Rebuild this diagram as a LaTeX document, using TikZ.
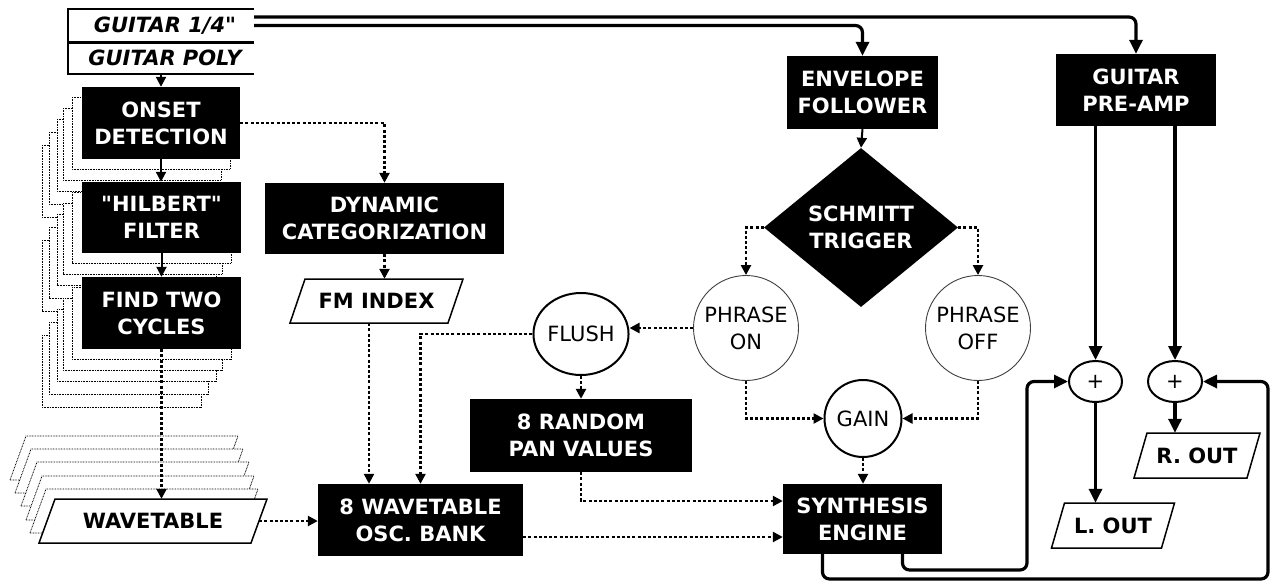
\documentclass[tikz,border=0pt]{standalone}
\usepackage{fontspec}
\setmainfont{DejaVu Sans}[Ligatures=TeXOff]
\usetikzlibrary{arrows.meta,shapes.geometric}
\newcommand\lblfont{\fontsize{21}{27}\selectfont}
% slanted input/output frame: centre x, centre y, width, height, slant, style
\newcommand\ioframe[6]{%
  \path[#6] ({#1-#3/2-#5/2},{#2+#4/2}) -- ({#1-#3/2+#5/2},{#2-#4/2})
    -- ({#1+#3/2+#5/2},{#2-#4/2}) -- ({#1+#3/2-#5/2},{#2+#4/2}) -- cycle;}
\tikzset{
  every node/.style={font=\lblfont, align=center, inner sep=0pt},
  blk/.style={rectangle, fill=black, text=white, font=\lblfont\bfseries},
  iotxt/.style={rectangle, font=\lblfont\bfseries},
  iofr/.style={draw, line width=1.5pt, fill=white},
  copyfr/.style={draw, line width=0.8pt, dash pattern=on 0.8pt off 0.8pt, fill=white},
  thinring/.style={circle, draw=black!75, line width=0.9pt, fill=white},
  ring/.style={draw, line width=2pt, fill=white},
  sig/.style={line width=2pt, -{Triangle[length=10pt,width=10pt]}},
  heavy/.style={line width=3.2pt, rounded corners=7pt, -{Triangle[length=14pt,width=13pt]}},
  ctl/.style={line width=2.4pt, dash pattern=on 3pt off 2.2pt, -{Triangle[length=10pt,width=10pt]}},
}
\begin{document}
\begin{tikzpicture}[x=1pt,y=-1pt]
\fill[white] (0,0) rectangle (1272,582);
\useasboundingbox (0,0) rectangle (1272,582);

% ---- stacked copies behind the per-string analysis chain
\foreach \dx/\dy in {40/58,33/45,25/32,19/21,10/10}{
  \draw[copyfr] ({82-\dx},{87+\dy}) rectangle ({240-\dx},{159+\dy});}
\foreach \dx/\dy in {40/58,33/45,25/32,19/21,10/10}{
  \draw[copyfr] ({82-\dx},{182+\dy}) rectangle ({241-\dx},{253+\dy});}
\foreach \dx/\dy in {40/58,33/45,25/32,19/21,10/10}{
  \draw[copyfr] ({82-\dx},{277+\dy}) rectangle ({241-\dx},{349+\dy});}
\foreach \dx/\dy in {29/63,24/50,18/37,13/23,9/10}{
  \ioframe{153-\dx}{521-\dy}{212}{44}{16}{copyfr}}

% ---- guitar inputs
\node[font=\lblfont\bfseries\itshape, minimum width=186pt, minimum height=33pt] (g14) at (161,25.5) {\hspace{8pt}GUITAR 1/4"};
\node[font=\lblfont\bfseries\itshape, minimum width=186pt, minimum height=32pt] (gpoly) at (161,58) {\hspace{8pt}GUITAR POLY};
\draw[line width=1.5pt] (g14.north east) -- (g14.north west) -- (gpoly.south west) -- (gpoly.south east);
\draw[line width=3pt] (g14.south west) -- (g14.south east);

% ---- processing blocks
\node[blk, minimum width=158pt, minimum height=72pt] (onset) at (161,123) {ONSET\\DETECTION};
\node[blk, minimum width=159pt, minimum height=71pt] (hilb) at (161.5,217.5) {"HILBERT"\\FILTER};
\node[blk, minimum width=159pt, minimum height=72pt] (find) at (161.5,313) {FIND TWO\\CYCLES};
\node[blk, minimum width=239pt, minimum height=71pt] (dyn) at (384.5,218.5) {DYNAMIC\\CATEGORIZATION};
\node[blk, minimum width=205pt, minimum height=72pt] (osc) at (420.5,520) {8 WAVETABLE\\OSC. BANK};
\node[blk, minimum width=222pt, minimum height=73pt] (rand) at (581,435.5) {8 RANDOM\\PAN VALUES};
\node[blk, minimum width=159pt, minimum height=70pt] (synth) at (862.5,519) {SYNTHESIS\\ENGINE};
\node[blk, minimum width=151pt, minimum height=73pt] (env) at (862.5,92.5) {ENVELOPE\\FOLLOWER};
\node[blk, minimum width=160pt, minimum height=72pt] (pre) at (1136,90) {GUITAR\\PRE-AMP};
\node[blk, diamond, aspect=1.22, minimum width=194pt, minimum height=159pt] (dia) at (861,227.5) {SCHMITT\\TRIGGER};

% ---- data frames
\ioframe{153}{521}{212}{44}{16}{iofr}
\node[iotxt, minimum width=212pt, minimum height=44pt] (wave) at (153,521) {WAVETABLE};
\ioframe{376.5}{301}{158}{44}{15}{iofr}
\node[iotxt, minimum width=158pt, minimum height=44pt] (fm) at (376.5,301) {FM INDEX};
\ioframe{1113}{525.5}{110}{45}{13}{iofr}
\node[iotxt, minimum width=110pt, minimum height=45pt] (lout) at (1113,525.5) {L. OUT};
\ioframe{1197}{455.5}{113}{45}{13}{iofr}
\node[iotxt, minimum width=113pt, minimum height=45pt] (rout) at (1197,455.5) {R. OUT};

% ---- round nodes
\node[thinring, minimum size=105pt] (pon) at (746,328) {PHRASE\\ON};
\node[thinring, minimum size=105pt] (poff) at (978,328) {PHRASE\\OFF};
\node[ring, ellipse, minimum width=92pt, minimum height=82pt] (flush) at (581,334) {FLUSH};
\node[ring, circle, minimum size=77pt] (gain) at (863,418.5) {GAIN};
\node[ring, ellipse, minimum width=53pt, minimum height=41pt] (plusL) at (1095.5,381.5) {+};
\node[ring, ellipse, minimum width=54pt, minimum height=41pt] (plusR) at (1175,381.5) {+};

\coordinate (loopA) at (1027,570);
\coordinate (loopB) at (1268,579);

% ---- audio paths
\draw[heavy] ([yshift=8.5pt]g14.east) -| (pre.north);
\draw[heavy] (g14.east) -| (env.north);
\draw[heavy] (pre.south -| plusL.north) -- (plusL.north);
\draw[heavy] (pre.south -| plusR.north) -- (plusR.north);
\draw[heavy] (plusL.south) -- (plusL.south |- lout.north);
\draw[heavy] (plusR.south) -- (plusR.south |- rout.north);
\draw[heavy] ([xshift=40pt]synth.south) |- (loopA) |- (plusL.west);
\draw[heavy] ([xshift=-40pt]synth.south) |- (loopB) |- (plusR.east);

% ---- analysis chain
\draw[sig] (gpoly.south -| onset.north) -- (onset.north);
\draw[sig] (onset.south) -- (onset.south |- hilb.north);
\draw[sig] (hilb.south) -- (hilb.south |- find.north);
\draw[sig] (env.south) -- (dia.north);

% ---- control paths
\draw[ctl] (find.south) -- (find.south |- wave.north);
\draw[ctl] (wave.east) -- (wave.east -| osc.west);
\draw[ctl] (onset.east) -| (dyn.north);
\draw[ctl] (dyn.south) -- (dyn.south |- fm.north);
\draw[ctl] ([xshift=-7.5pt]fm.south) -- ([xshift=-7.5pt]fm.south |- osc.north);
\draw[ctl] (flush.west) -| (osc.north);
\draw[ctl] (pon.west) -- (pon.west -| flush.east);
\draw[ctl] (flush.south) -- (flush.south |- rand.north);
\draw[ctl] (rand.south) |- ([yshift=18pt]synth.west);
\draw[ctl] ([yshift=-17pt]osc.east) -- ([yshift=-17pt]osc.east -| synth.west);
\draw[ctl] (dia.west) -| (pon.north);
\draw[ctl] (dia.east) -| (poff.north);
\draw[ctl] (pon.south) |- (gain.west);
\draw[ctl] (poff.south) |- (gain.east);
\draw[ctl] (gain.south) -- (gain.south |- synth.north);
\end{tikzpicture}
\end{document}
